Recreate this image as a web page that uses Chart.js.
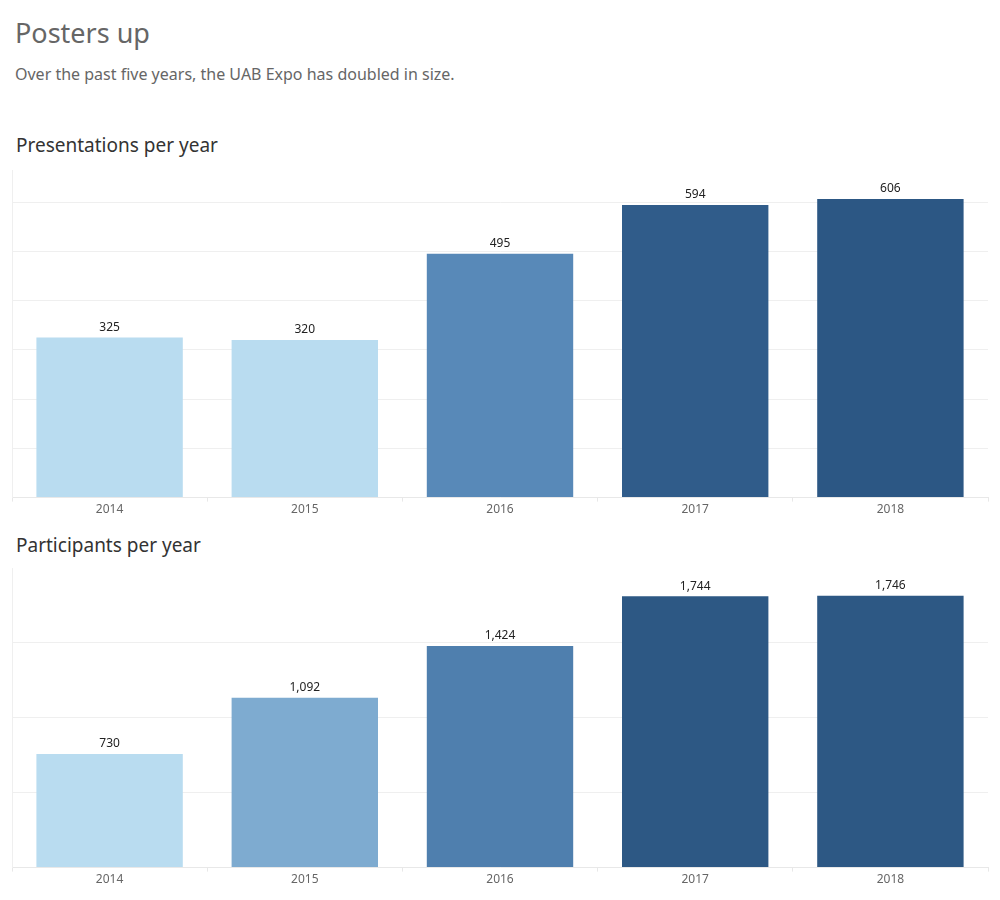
<!DOCTYPE html>
<html>
<head>
<meta charset="utf-8">
<script src="https://cdn.jsdelivr.net/npm/chart.js@4"></script>
<style>
  body { margin: 0; background: #fff; font-family: "Noto Sans", sans-serif; }
  #wrap { position: relative; width: 1000px; height: 900px; }
  h1 { position: absolute; left: 15px; top: 14px; margin: 0; font-size: 27px; font-weight: normal; color: #666; }
  .sub { position: absolute; left: 15px; top: 63px; margin: 0; font-size: 16px; color: #666; }
  h2 { position: absolute; left: 16px; margin: 0; font-size: 19px; font-weight: normal; color: #333; }
  .box { position: absolute; left: 0; width: 1000px; }
</style>
</head>
<body>
<div id="wrap">
  <h1>Posters up</h1>
  <p class="sub">Over the past five years, the UAB Expo has doubled in size.</p>
  <h2 style="top:132px">Presentations per year</h2>
  <div class="box" style="top:160px;height:358px"><canvas id="presChart"></canvas></div>
  <h2 style="top:532px">Participants per year</h2>
  <div class="box" style="top:558px;height:330px"><canvas id="partChart"></canvas></div>
</div>
<script>
const years = ["2014", "2015", "2016", "2017", "2018"];
const presentations = [325, 320, 495, 594, 606];
const participants = [730, 1092, 1424, 1744, 1746];
const presColors = ["#b9dcf0", "#b9dcf0", "#5889b8", "#305c8a", "#2c5784"];
const partColors = ["#b9dcf0", "#7eabd0", "#4f7fae", "#2d5884", "#2d5884"];

// draws the value above each bar
const valueLabels = {
  id: "valueLabels",
  afterDatasetsDraw(chart) {
    const ctx = chart.ctx;
    const meta = chart.getDatasetMeta(0);
    const values = chart.data.datasets[0].data;
    ctx.save();
    ctx.fillStyle = "#222";
    ctx.font = "12px 'Noto Sans', sans-serif";
    ctx.textAlign = "center";
    ctx.textBaseline = "bottom";
    meta.data.forEach((bar, i) => {
      ctx.fillText(values[i].toLocaleString("en-US"), bar.x, bar.y - 4);
    });
    ctx.restore();
  },
};

function makeChart(id, values, colors, yMax, step) {
  return new Chart(document.getElementById(id), {
    type: "bar",
    data: {
      labels: years,
      datasets: [
        {
          data: values,
          backgroundColor: colors,
          barPercentage: 0.75,
          categoryPercentage: 1,
        },
      ],
    },
    options: {
      responsive: true,
      maintainAspectRatio: false,
      animation: false,
      layout: { padding: { left: 12, right: 12, top: 10, bottom: 0 } },
      scales: {
        x: {
          grid: { drawOnChartArea: false, color: "#e8e8e8", tickLength: 4 },
          border: { color: "#e8e8e8" },
          ticks: { color: "#666", font: { size: 12, family: "'Noto Sans', sans-serif" }, padding: 1 },
        },
        y: {
          min: 0,
          max: yMax,
          ticks: { display: false, stepSize: step },
          grid: {
            // no line at the top of the axis
            color: (c) => (c.tick && c.tick.value === yMax ? "rgba(0,0,0,0)" : "#efefef"),
            drawTicks: false,
          },
          border: { color: "#efefef" },
        },
      },
      plugins: {
        legend: { display: false },
        tooltip: { enabled: false },
      },
    },
    plugins: [valueLabels],
  });
}

makeChart("presChart", presentations, presColors, 665, 100);
makeChart("partChart", participants, partColors, 1925, 500);
</script>
</body>
</html>
